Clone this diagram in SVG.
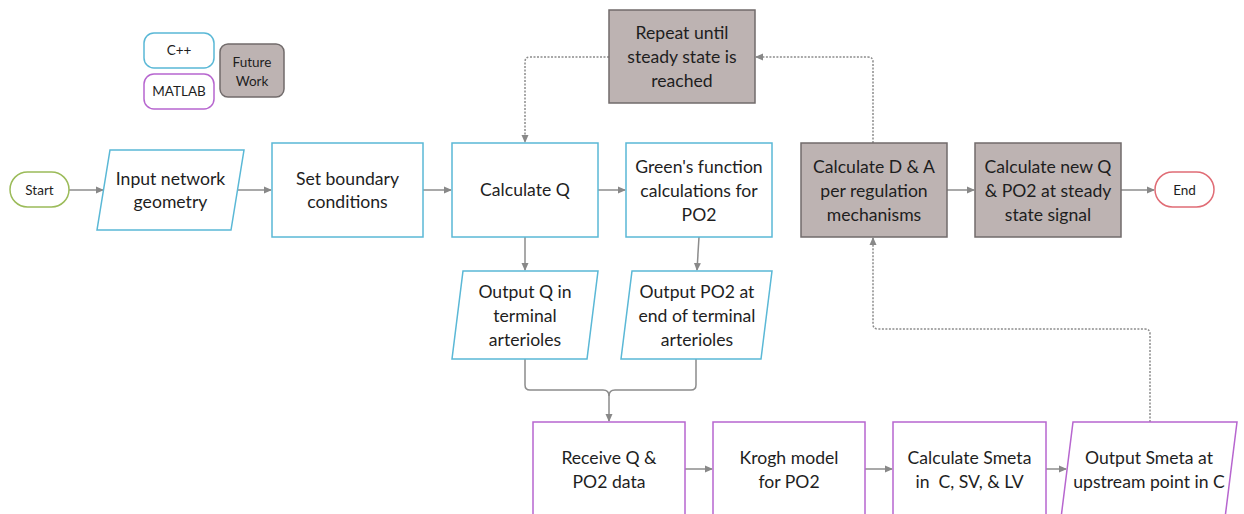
<svg xmlns="http://www.w3.org/2000/svg" width="1244" height="514" viewBox="0 0 1244 514">
<defs>
<marker id="ah" markerWidth="8" markerHeight="8" refX="7" refY="4" orient="auto" markerUnits="userSpaceOnUse">
<path d="M0,0.5 L8,4 L0,7.5 Z" fill="#888"/>
</marker>
<style>
text{font-family:Lato,"Open Sans","Liberation Sans",sans-serif;fill:#1e1e1e;text-anchor:middle}
.t{font-size:17.6px}
.s{font-size:13.5px}
.blue{fill:#fff;stroke:#5ab8d6;stroke-width:1.5}
.pur{fill:#fff;stroke:#b766cf;stroke-width:1.5}
.gray{fill:#bdb3b2;stroke:#716b6b;stroke-width:1.5}
.c{fill:none;stroke:#8c8c8c;stroke-width:1.5}
.d{fill:none;stroke:#8c8c8c;stroke-width:1.5;stroke-dasharray:2,1.5}
</style>
</defs>
<rect width="1244" height="514" fill="#fff"/>
<g id="legend">
<g id="legend-cpp"><rect x="144" y="33" width="70" height="35" rx="10" class="blue"/><text class="s" x="179" y="55">C++</text></g>
<g id="legend-matlab"><rect x="144" y="74" width="70" height="35" rx="10" class="pur"/><text class="s" x="179" y="96">MATLAB</text></g>
<g id="legend-future"><rect x="220" y="44" width="64" height="53" rx="8" class="gray"/><text class="s" x="252" y="67">Future</text><text class="s" x="252" y="86">Work</text></g>
</g>
<g id="connectors">
<path class="c" d="M69,190 H103" marker-end="url(#ah)"/>
<path class="c" d="M237,190 H271" marker-end="url(#ah)"/>
<path class="c" d="M423,190 H451" marker-end="url(#ah)"/>
<path class="c" d="M598,190 H625" marker-end="url(#ah)"/>
<path class="c" d="M947,190 H974" marker-end="url(#ah)"/>
<path class="c" d="M1121,190 H1154" marker-end="url(#ah)"/>
<path class="c" d="M525,237 V270" marker-end="url(#ah)"/>
<path class="c" d="M699,237 L697,270" marker-end="url(#ah)"/>
<path class="c" d="M525,359 V385 Q525,390 530,390 H603 Q609,390 609,396 V421" marker-end="url(#ah)"/>
<path class="c" d="M696,359 V385 Q696,390 691,390 H615 Q609,390 609,396"/>
<path class="c" d="M685,469 H712" marker-end="url(#ah)"/>
<path class="c" d="M865,469 H892" marker-end="url(#ah)"/>
<path class="c" d="M1046,469 H1066" marker-end="url(#ah)"/>
<path class="d" d="M1150,422 V334 Q1150,329 1145,329 H878 Q873,329 873,324 V238" marker-end="url(#ah)"/>
<path class="d" d="M873,143 V62 Q873,57 868,57 H756" marker-end="url(#ah)"/>
<path class="d" d="M609,57 H530 Q525,57 525,62 V142" marker-end="url(#ah)"/>
</g>
<g id="start"><rect x="10" y="172" width="59" height="35" rx="17.5" fill="#fff" stroke="#9bbb59" stroke-width="1.5"/><text class="s" x="39.5" y="194.5">Start</text></g>
<g id="input"><polygon points="110,150 244,150 231,230 97,230" class="blue"/><text class="t" x="170.5" y="185">Input network</text><text class="t" x="170.5" y="208">geometry</text></g>
<g id="boundary"><rect x="272" y="143" width="151" height="94" class="blue"/><text class="t" x="347.5" y="185">Set boundary</text><text class="t" x="347.5" y="208">conditions</text></g>
<g id="calcq"><rect x="452" y="143" width="146" height="94" class="blue"/><text class="t" x="525" y="196">Calculate Q</text></g>
<g id="greens"><rect x="626" y="143" width="146" height="94" class="blue"/><text class="t" x="699" y="173">Green's function</text><text class="t" x="699" y="197">calculations for</text><text class="t" x="699" y="221">PO2</text></g>
<g id="repeat"><rect x="609" y="10" width="146" height="93" class="gray"/><text class="t" x="682" y="39">Repeat until</text><text class="t" x="682" y="63">steady state is</text><text class="t" x="682" y="87">reached</text></g>
<g id="calcda"><rect x="801" y="143" width="146" height="94" class="gray"/><text class="t" x="874" y="173">Calculate D &amp; A</text><text class="t" x="874" y="197">per regulation</text><text class="t" x="874" y="221">mechanisms</text></g>
<g id="newq"><rect x="975" y="143" width="146" height="94" class="gray"/><text class="t" x="1048" y="173">Calculate new Q</text><text class="t" x="1048" y="197">&amp; PO2 at steady</text><text class="t" x="1048" y="221">state signal</text></g>
<g id="end"><rect x="1155" y="172" width="59" height="35" rx="17.5" fill="#fff" stroke="#e06c75" stroke-width="1.5"/><text class="s" x="1184.5" y="194.5">End</text></g>
<g id="outq"><polygon points="463,271 598,271 587,359 452,359" class="blue"/><text class="t" x="525" y="298">Output Q in</text><text class="t" x="525" y="322">terminal</text><text class="t" x="525" y="346">arterioles</text></g>
<g id="outpo2"><polygon points="632,271 772,271 761,359 621,359" class="blue"/><text class="t" x="697" y="298">Output PO2 at</text><text class="t" x="697" y="322">end of terminal</text><text class="t" x="697" y="346">arterioles</text></g>
<g id="receive"><rect x="533" y="422" width="152" height="96" class="pur"/><text class="t" x="609" y="464">Receive Q &amp;</text><text class="t" x="609" y="488">PO2 data</text></g>
<g id="krogh"><rect x="713" y="422" width="152" height="96" class="pur"/><text class="t" x="789" y="464">Krogh model</text><text class="t" x="789" y="488">for PO2</text></g>
<g id="smeta"><rect x="893" y="422" width="153" height="96" class="pur"/><text class="t" x="969.5" y="464">Calculate Smeta</text><text class="t" x="969.5" y="488" xml:space="preserve">in  C, SV, &amp; LV</text></g>
<g id="outsmeta"><polygon points="1073,422 1237,422 1225,518 1061,518" class="pur"/><text class="t" x="1149" y="464">Output Smeta at</text><text class="t" x="1149" y="488">upstream point in C</text></g>
</svg>
